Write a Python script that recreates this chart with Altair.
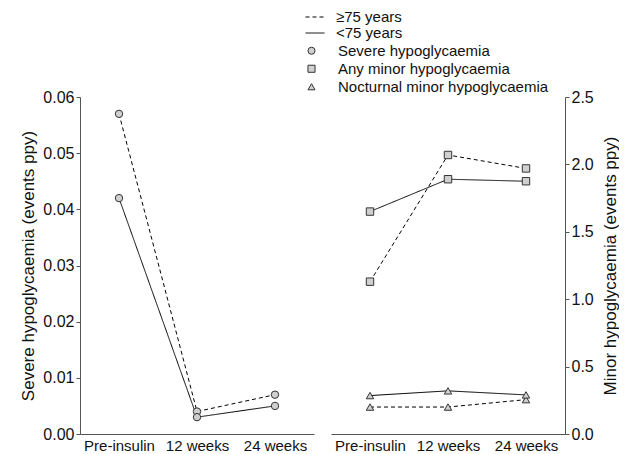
import altair as alt
import pandas as pd

times = ["Pre-insulin", "12 weeks", "24 weeks"]
ages = ["≥75 years", "<75 years"]
measures = ["Severe hypoglycaemia", "Any minor hypoglycaemia", "Nocturnal minor hypoglycaemia"]

severe_old = [0.057, 0.004, 0.007]
severe_young = [0.042, 0.003, 0.005]
anyminor_old = [1.13, 2.07, 1.97]
anyminor_young = [1.65, 1.89, 1.875]
nocturnal_old = [0.20, 0.20, 0.255]
nocturnal_young = [0.285, 0.32, 0.29]

rows = []
for m, a, vals in [
    (measures[0], ages[0], severe_old),
    (measures[0], ages[1], severe_young),
    (measures[1], ages[0], anyminor_old),
    (measures[1], ages[1], anyminor_young),
    (measures[2], ages[0], nocturnal_old),
    (measures[2], ages[1], nocturnal_young),
]:
    for t, v in zip(times, vals):
        rows.append({"time": t, "age": a, "measure": m, "value": v})
df = pd.DataFrame(rows)

FONT = "Liberation Sans"

x_enc = alt.X("time:N", sort=times,
              scale=alt.Scale(type="point", padding=0.5),
              axis=alt.Axis(title=None, ticks=False, labelAngle=0, labelPadding=4,
                            domainColor="#555", labelFontSize=15, labelColor="#111"))

dash_scale = alt.Scale(domain=ages, range=[[4, 3], [1, 0]])
shape_scale = alt.Scale(domain=measures, range=["circle", "square", "triangle-up"])
fill_scale = alt.Scale(domain=measures, range=["#d0d0d0", "#d0d0d0", "#d0d0d0"])
stroke_scale = alt.Scale(domain=measures, range=["#333333", "#333333", "#333333"])

shape_legend = alt.Legend(title=None, orient="none", legendX=224, legendY=-55,
                          symbolStrokeWidth=1, symbolSize=50, symbolOpacity=1,
                          labelFontSize=15, rowPadding=0, clipHeight=17.5,
                          labelOffset=19, labelLimit=300)


def panel(data, yscale, axis):
    base = alt.Chart(data).encode(x=x_enc)
    lines = base.mark_line(color="black", strokeWidth=1).encode(
        y=alt.Y("value:Q", scale=yscale, axis=axis),
        strokeDash=alt.StrokeDash("age:N", scale=dash_scale,
                                  legend=alt.Legend(title=None, orient="none",
                                                    legendX=225, legendY=-88,
                                                    symbolType="stroke", symbolSize=361,
                                                    symbolStrokeColor="black",
                                                    symbolStrokeWidth=1,
                                                    labelFontSize=15, rowPadding=0,
                                                    clipHeight=16, labelOffset=11,
                                                    labelLimit=300)),
        detail="measure:N",
    )
    pts = base.mark_point(filled=True, strokeWidth=1, size=55, opacity=1).encode(
        y=alt.Y("value:Q", scale=yscale),
        shape=alt.Shape("measure:N", scale=shape_scale, legend=shape_legend),
        fill=alt.Fill("measure:N", scale=fill_scale, legend=shape_legend),
        stroke=alt.Stroke("measure:N", scale=stroke_scale, legend=shape_legend),
    )
    return alt.layer(lines, pts).properties(width=234, height=337)


left = panel(
    df[df.measure == measures[0]],
    alt.Scale(domain=[0, 0.06], nice=False),
    alt.Axis(title="Severe hypoglycaemia (events ppy)", values=[0, 0.01, 0.02, 0.03, 0.04, 0.05, 0.06],
             format=".2f", grid=False, domainColor="#555", tickColor="#555",
             labelFontSize=16, titleFontSize=17, titleFontWeight="normal",
             labelColor="#111", titleColor="#111", titlePadding=5, tickSize=4),
)
right = panel(
    df[df.measure != measures[0]],
    alt.Scale(domain=[0, 2.5], nice=False),
    alt.Axis(title="Minor hypoglycaemia (events ppy)", orient="right",
             values=[0, 0.5, 1.0, 1.5, 2.0, 2.5], format=".1f", grid=False,
             domainColor="#555", tickColor="#555", labelFontSize=16, titleFontSize=17,
             titleFontWeight="normal", labelColor="#111", titleColor="#111",
             titleAngle=270, titleBaseline="top", titlePadding=9, tickSize=4),
)

chart = alt.hconcat(left, right, spacing=17).resolve_scale(
    y="independent"
).properties(
    padding={"top": 1, "left": 11, "right": 0, "bottom": 0}
).configure(
    font=FONT
).configure_view(stroke=None).configure_axis(
    labelFont=FONT, titleFont=FONT
).configure_legend(labelFont=FONT, labelColor="#111")

chart.save("out.html", embed_options={"renderer": "svg", "actions": False})
